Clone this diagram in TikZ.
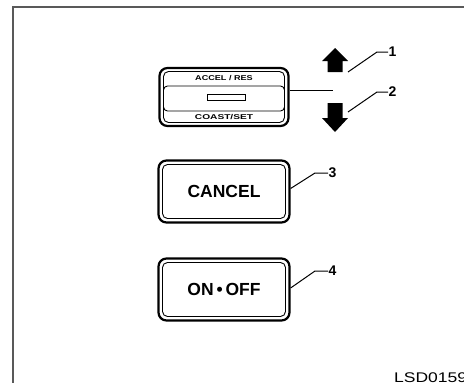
\documentclass[tikz,border=0pt]{standalone}
\usepackage{fontspec}
\setmainfont{Liberation Sans}
\begin{document}
\begin{tikzpicture}[x=1pt,y=-1pt,
  outerbtn/.style={draw, line width=2.2pt, rounded corners=8pt, inner sep=0pt},
  innerbtn/.style={draw, line width=0.9pt, rounded corners=5pt, inner sep=0pt},
  thinln/.style={line width=0.9pt},
  leader/.style={line width=1pt},
  numlbl/.style={font=\fontsize{14}{14}\selectfont\bfseries, inner sep=0.5pt, anchor=west},
  bigtxt/.style={font=\fontsize{17.5}{17.5}\selectfont\bfseries},
  smalltxt/.style={font=\fontsize{7}{7}\selectfont\bfseries, inner sep=0pt},
  framestyle/.style={line width=1.3pt, draw=black!65}]
\useasboundingbox (0,0) rectangle (464,383);
\fill[white] (0,0) rectangle (464,383);
\draw[framestyle] (13,383) -- (13,7) -- (464,7);

% button 1 : ACCEL/RES - COAST/SET
\node[outerbtn, minimum width=129pt, minimum height=58pt] (b1) at (224,97) {};
\node[innerbtn, minimum width=121pt, minimum height=51pt] (b1i) at (224,97) {};
\node[innerbtn, rounded corners=4pt, minimum width=121pt, minimum height=25pt] (b1m) at (224,98.5) {};
\node[draw, thinln, minimum width=38pt, minimum height=5.5pt, inner sep=0pt] (slot) at (226,97.5) {};
\node[smalltxt] (accel) at (224,78) {\scalebox{1.3}[1]{ACCEL / RES}};
\node[smalltxt] (coast) at (224,117.5) {\scalebox{1.45}[1]{COAST/SET}};
\coordinate (h1) at (333,90);
\draw[leader] (h1 -| b1.east) -- (h1);

% arrows
\fill (335,48) -- (348,61) -- (342.5,61) -- (342.5,72) -- (327.5,72) -- (327.5,61) -- (322,61) -- cycle;
\fill (335,132) -- (348,118) -- (342.5,118) -- (342.5,103) -- (327.5,103) -- (327.5,118) -- (322,118) -- cycle;

% leaders 1 and 2
\coordinate (l1a) at (348,72);
\coordinate (l1b) at (377,52);
\node[numlbl] (n1) at (388,52) {1};
\draw[leader] (l1a) -- (l1b) -- (n1.west);
\coordinate (l2a) at (348,112);
\coordinate (l2b) at (377,92);
\node[numlbl] (n2) at (388,92) {2};
\draw[leader] (l2a) -- (l2b) -- (n2.west);

% button 3 : CANCEL
\node[outerbtn, minimum width=131pt, minimum height=62pt] (b3) at (224,191.5) {};
\node[innerbtn, bigtxt, minimum width=123pt, minimum height=54pt] (b3i) at (224,191.5) {CANCEL};
\coordinate (l3b) at (315,173);
\node[numlbl] (n3) at (328,173) {3};
\draw[leader] ([yshift=3pt]b3.east) -- (l3b) -- (n3.west);

% button 4 : ON-OFF
\node[outerbtn, minimum width=131pt, minimum height=62pt] (b4) at (224,289.5) {};
\node[innerbtn, bigtxt, minimum width=123pt, minimum height=54pt] (b4i) at (224,289.5) {ON\,•\,OFF};
\coordinate (l4b) at (315,271);
\node[numlbl] (n4) at (328,271) {4};
\draw[leader] ([yshift=1.5pt]b4.east) -- (l4b) -- (n4.west);

% code
\node[anchor=base west, font=\fontsize{14}{14}\selectfont, inner sep=0pt] (code) at (394,382) {\scalebox{1.25}[1]{LSD0159}};
\end{tikzpicture}
\end{document}
